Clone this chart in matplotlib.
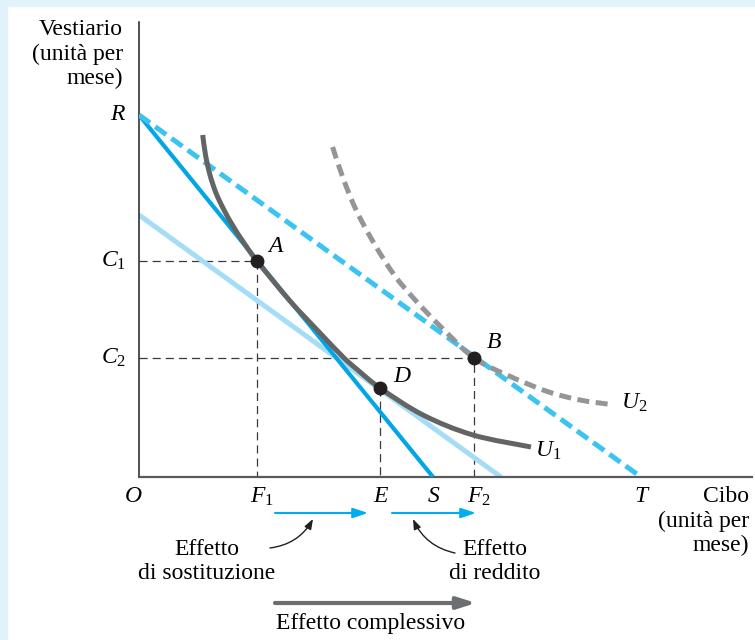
import matplotlib
matplotlib.use("Agg")
import matplotlib.pyplot as plt
import numpy as np
from matplotlib.path import Path
from matplotlib.patches import PathPatch, Rectangle

plt.rcParams['font.family'] = ['Liberation Serif', 'DejaVu Serif']
plt.rcParams['mathtext.fontset'] = 'custom'
plt.rcParams['mathtext.rm'] = 'Liberation Serif'
plt.rcParams['mathtext.it'] = 'Liberation Serif:italic'

# ---- data (units per month) ----
budget_RS = [(0, 90.5), (73.5, 0)]          # initial budget line R-S
budget_RT = [(0, 90.5), (125.5, 0)]         # new budget line R-T (dashed)
budget_par = [(0, 65.5), (90.5, 0)]         # parallel compensated line
U1_x = [15.93, 16.63, 17.75, 19.25, 21.25, 23.5, 26.25, 29.5, 37.75, 45.25, 51.0, 54.5,
        60.25, 71.0, 83.5, 98.0]
U1_y = [85.5, 80.5, 75.5, 71.0, 66.75, 62.75, 58.5, 54.0, 44.0, 36.0, 30.0, 26.9,
        22.25, 15.5, 10.5, 7.5]
U2_x = [48.4, 51.0, 54.4, 59.0, 64.0, 69.5, 76.0, 83.75, 92.0, 102.0, 110.25, 118.25]
U2_y = [82.5, 74.75, 66.5, 58.0, 50.25, 43.75, 37.0, 29.75, 25.5, 21.4, 19.25, 18.1]
points = {'A': (29.5, 54.0), 'B': (83.75, 29.75), 'D': (60.25, 22.25)}
xticks = {'O': 0, '$F_1$': 29.5, '$E$': 60.25, '$S$': 73.5, '$F_2$': 83.75, '$T$': 125.5}
yticks = {'$R$': 90.5, '$C_1$': 54.0, '$C_2$': 29.75}

W, H = 755, 640
fig = plt.figure(figsize=(W/100, H/100), dpi=100)
fig.patch.set_facecolor('white')
# light blue frame strips
fig.patches.append(Rectangle((0, 1 - 6/H), 1, 6/H, transform=fig.transFigure,
                             color='#e1f2fa', zorder=0))
fig.patches.append(Rectangle((0, 0), 7/W, 1, transform=fig.transFigure,
                             color='#e1f2fa', zorder=0))

ax = fig.add_axes([139/W, 163/H, 613/W, 455/H])
ax.set_xlim(0, 153.25)
ax.set_ylim(0, 113.75)
ax.set_facecolor('none')
for s in ['top', 'right']:
    ax.spines[s].set_visible(False)
ax.spines['left'].set_color('#231f20')
ax.spines['left'].set_linewidth(1.1)
ax.spines['bottom'].set_color('#58595b')
ax.spines['bottom'].set_linewidth(1.6)
ax.set_xticks([])
ax.set_yticks([])


def smooth_path(xs, ys):
    P = np.column_stack([xs, ys]).astype(float)
    verts = [tuple(P[0])]
    codes = [Path.MOVETO]
    n = len(P)
    for i in range(n - 1):
        p0 = P[i - 1] if i > 0 else P[i]
        p1 = P[i]
        p2 = P[i + 1]
        p3 = P[i + 2] if i + 2 < n else P[i + 1]
        c1 = p1 + (p2 - p0) / 6.0
        c2 = p2 - (p3 - p1) / 6.0
        verts += [tuple(c1), tuple(c2), tuple(p2)]
        codes += [Path.CURVE4] * 3
    return Path(verts, codes)


# guide lines
guide_kw = dict(color='#3a3a3c', lw=0.9, dashes=(6.5, 4), zorder=1)
A, B, D = points['A'], points['B'], points['D']
ax.plot([0, A[0], A[0]], [A[1], A[1], 0], **guide_kw)
ax.plot([0, B[0], B[0]], [B[1], B[1], 0], **guide_kw)
ax.plot([D[0], D[0]], [D[1], 0], **guide_kw)

# budget lines
ax.plot(*zip(*budget_par), color='#a6ddf6', lw=3.6, solid_capstyle='butt', zorder=2)
ax.plot(*zip(*budget_RS), color='#00a6e6', lw=3.0, solid_capstyle='butt', zorder=3)
ax.plot(*zip(*budget_RT), color='#3cc4f0', lw=3.6, dashes=(2.7, 1.3), zorder=3)

# indifference curves
ax.add_patch(PathPatch(smooth_path(U1_x, U1_y), fill=False, edgecolor='#636466',
                       lw=3.6, capstyle='butt', zorder=4))
ax.add_patch(PathPatch(smooth_path(U2_x, U2_y), fill=False, edgecolor='#939598',
                       lw=3.6, linestyle=(0, (2.4, 1.3)), capstyle='butt', zorder=5))

# points
for k, (px, py) in points.items():
    ax.plot(px, py, 'o', color='#231f20', ms=9, zorder=6)

fs = 17
ax.text(32.0, 57.5, '$A$', fontsize=fs, ha='left', va='center')
ax.text(86.75, 33.5, '$B$', fontsize=fs, ha='left', va='center')
ax.text(63.5, 25.0, '$D$', fontsize=fs, ha='left', va='center')
ax.text(99.0, 6.5, '$U_1$', fontsize=fs, ha='left', va='center')
ax.text(120.5, 18.5, '$U_2$', fontsize=fs, ha='left', va='center')

# y labels
for lab, yv in yticks.items():
    ax.text(-3.2, yv, lab, fontsize=fs, ha='right', va='center', clip_on=False)
ax.text(-4.0, 114.5, 'Vestiario\n(unità per\nmese)', fontsize=fs, ha='right', va='top',
        linespacing=1.22, clip_on=False)

# x labels
for lab, xv in xticks.items():
    dx = 1.2 if '_' in lab else 0.3
    if lab == 'O':
        ax.text(-1.5, -5.0, '$O$', fontsize=fs, ha='center', va='center', clip_on=False)
    else:
        ax.text(xv + dx, -5.0, lab, fontsize=fs, ha='center', va='center', clip_on=False)
ax.text(152.5, -2.2, 'Cibo\n(unità per\nmese)', fontsize=fs, ha='right', va='top',
        linespacing=1.22, clip_on=False)

# effect arrows
blue_arrow = dict(arrowstyle='-|>,head_length=0.9,head_width=0.3', color='#00aeef',
                  lw=1.5, shrinkA=0, shrinkB=0)
ax.annotate('', xy=(57.25, -9.0), xytext=(34.0, -9.0), arrowprops=blue_arrow,
            annotation_clip=False)
ax.annotate('', xy=(84.25, -9.0), xytext=(63.25, -9.0), arrowprops=blue_arrow,
            annotation_clip=False)
gray_arrow = dict(arrowstyle='-|>,head_length=1.1,head_width=0.35', color='#6d6e71',
                  lw=3.0, shrinkA=0, shrinkB=0)
ax.annotate('', xy=(84.25, -31.5), xytext=(34.0, -31.5), arrowprops=gray_arrow,
            annotation_clip=False)

curve_kw = dict(arrowstyle='-|>,head_length=0.6,head_width=0.22', color='#231f20',
                lw=1.0, shrinkA=0, shrinkB=0)
ax.annotate('', xy=(43.5, -10.5), xytext=(32.75, -17.75),
            arrowprops=dict(connectionstyle='arc3,rad=0.25', **curve_kw),
            annotation_clip=False)
ax.annotate('', xy=(68.5, -10.5), xytext=(79.0, -19.0),
            arrowprops=dict(connectionstyle='arc3,rad=-0.25', **curve_kw),
            annotation_clip=False)

ax.text(17.0, -21.2, 'Effetto\ndi sostituzione', fontsize=fs, ha='center', va='center',
        linespacing=1.18, clip_on=False)
ax.text(89.0, -21.2, 'Effetto\ndi reddito', fontsize=fs, ha='center', va='center',
        linespacing=1.18, clip_on=False)
ax.text(58.0, -36.5, 'Effetto complessivo', fontsize=fs, ha='center', va='center',
        clip_on=False)

fig.savefig('out.png', dpi=100, facecolor='white')
